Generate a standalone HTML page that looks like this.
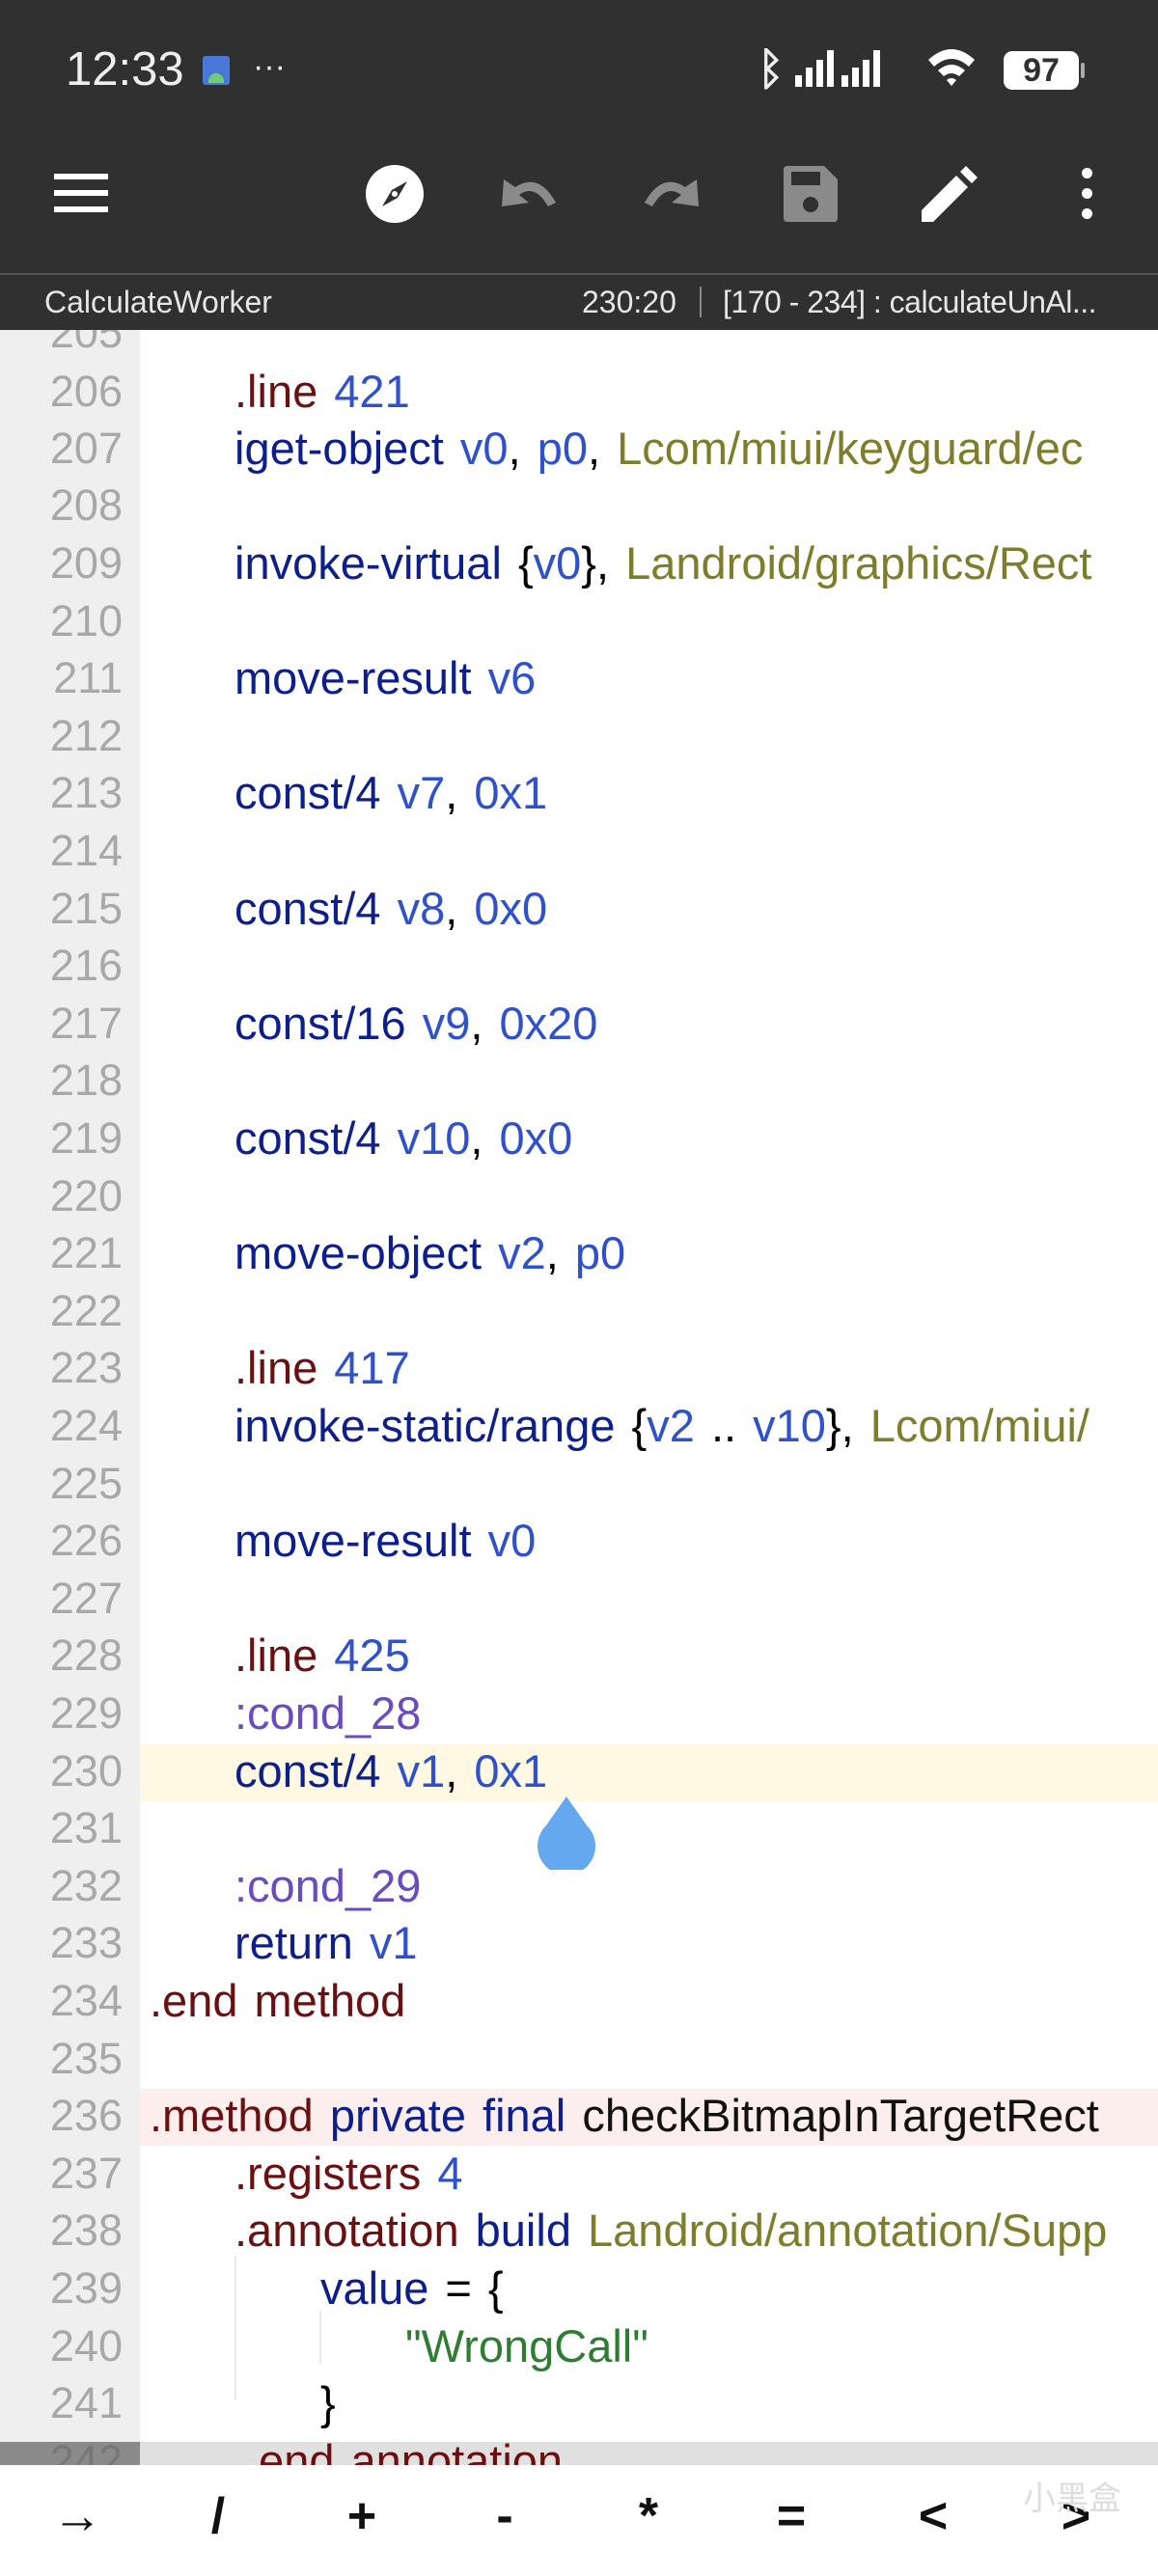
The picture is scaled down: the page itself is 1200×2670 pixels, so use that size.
<!DOCTYPE html>
<html><head><meta charset="utf-8"><style>
*{margin:0;padding:0;box-sizing:border-box}
body{width:1200px;height:2670px;overflow:hidden;background:#fff;font-family:"Liberation Sans","Noto Sans CJK SC",sans-serif;position:relative}
.top{position:absolute;left:0;top:0;width:1200px;height:342px;background:#303030}
.sep{position:absolute;left:0;top:283px;width:1200px;height:2px;background:#555}
.w{position:absolute;color:#eee}
.gut{position:absolute;left:0;top:342px;width:145px;height:2195px;background:#efefef}
.ln{position:absolute;left:0;width:145px;text-align:right;padding-right:18px;color:#a8a8a8;font-size:45px;height:60px;line-height:60px}
.c{position:absolute;font-size:47px;height:60px;line-height:60px;white-space:pre;word-spacing:4px}
.d{color:#6b1010}.n{color:#2f52cc}.k{color:#0d1f8c}.t{color:#7d7d2a}.l{color:#6a4cc0}.s{color:#2e7d32}.b{color:#111}
.key{position:absolute;top:2578px;font-size:52px;font-weight:bold;color:#111;width:60px;text-align:center;margin-left:-30px}
</style></head><body>
<div class="top"></div>
<div class="sep"></div>
<div class="w" style="left:68px;top:44px;font-size:49px">12:33</div>
<div style="position:absolute;left:210px;top:58px;width:28px;height:30px;background:#4a78d8;border-radius:3px"></div>
<div style="position:absolute;left:216px;top:76px;width:16px;height:10px;background:#6fcf6f;border-radius:8px 8px 0 0"></div>
<div class="w" style="left:262px;top:50px;font-size:34px">···</div>
<div class="w" style="left:785px;top:44px;font-size:46px;font-weight:bold">ᛒ</div>
<svg style="position:absolute;left:822px;top:50px" width="120" height="40"><g fill="#fff"><rect x="2" y="28" width="7" height="12"/><rect x="13" y="20" width="7" height="20"/><rect x="24" y="12" width="7" height="28"/><rect x="35" y="2" width="7" height="38"/><rect x="50" y="28" width="7" height="12"/><rect x="61" y="20" width="7" height="20"/><rect x="72" y="12" width="7" height="28"/><rect x="83" y="2" width="7" height="38"/></g></svg>
<svg style="position:absolute;left:958px;top:46px" width="60" height="46"><path d="M4 16 Q28 -6 52 16 L46 23 Q28 7 10 23Z M14 27 Q28 15 42 27 L36 33 Q28 27 20 33Z M23 37 L28 43 L33 37 Q28 33 23 37Z" fill="#fff"/></svg>
<div style="position:absolute;left:1040px;top:53px;width:78px;height:40px;background:#fff;border-radius:9px;color:#303030;font-size:34px;font-weight:bold;text-align:center;line-height:40px">97</div>
<div style="position:absolute;left:1120px;top:65px;width:4px;height:16px;background:#aaa;border-radius:2px"></div>
<div style="position:absolute;left:56px;top:180px;width:56px;height:6px;background:#fff;box-shadow:0 17px 0 #fff,0 34px 0 #fff"></div>
<svg style="position:absolute;left:378px;top:170px" width="62" height="62"><circle cx="31" cy="31" r="30" fill="#fff"/><path d="M44 18 L34 35 L18 44 L28 27Z" fill="#303030"/><circle cx="31" cy="31" r="3" fill="#fff"/></svg>
<svg style="position:absolute;left:518px;top:180px" width="64" height="44"><path d="M16 14 Q40 -2 58 30 L50 34 Q36 10 20 22 L30 30 L2 34 L4 6Z" fill="#8a8a8a"/></svg>
<svg style="position:absolute;left:662px;top:180px" width="64" height="44"><path d="M48 14 Q24 -2 6 30 L14 34 Q28 10 44 22 L34 30 L62 34 L60 6Z" fill="#8a8a8a"/></svg>
<svg style="position:absolute;left:812px;top:172px" width="56" height="58"><path d="M0 4 Q0 0 4 0 L42 0 L56 14 L56 54 Q56 58 52 58 L4 58 Q0 58 0 54Z" fill="#8a8a8a"/><rect x="8" y="6" width="30" height="14" fill="#303030"/><circle cx="28" cy="40" r="8" fill="#303030"/></svg>
<svg style="position:absolute;left:955px;top:172px" width="58" height="58"><path d="M0 46 L36 10 L48 22 L12 58 L0 58Z M40 6 L46 0 L58 12 L52 18Z" fill="#fff"/></svg>
<div style="position:absolute;left:1121px;top:174px;width:11px;height:11px;background:#fff;border-radius:50%;box-shadow:0 21px 0 #fff,0 42px 0 #fff"></div>
<div class="w" style="left:46px;top:295px;font-size:32px;color:#e6e6e6">CalculateWorker</div>
<div class="w" style="left:603px;top:295px;font-size:32px;color:#e6e6e6">230:20</div>
<div style="position:absolute;left:725px;top:297px;width:2px;height:32px;background:#888"></div>
<div class="w" style="left:749px;top:295px;font-size:32px;color:#e6e6e6;letter-spacing:-0.5px">[170 - 234] : calculateUnAl...</div>
<div class="gut"></div>
<div style="position:absolute;left:145px;top:1808px;width:1055px;height:59px;background:#fff8e3"></div>
<div style="position:absolute;left:145px;top:2165px;width:1055px;height:59px;background:#fdeeee"></div>
<div style="position:absolute;left:0;top:2531px;width:1200px;height:24px;background:#e0e0e0;overflow:hidden"></div>
<div style="position:absolute;left:0;top:2531px;width:145px;height:24px;background:#8a8a8a"></div>
<div style="position:absolute;left:243px;top:2338px;width:2px;height:150px;background:#e8e8e8"></div>
<div style="position:absolute;left:331px;top:2395px;width:2px;height:55px;background:#e8e8e8"></div>
<div style="position:absolute;left:0;top:342px;width:1200px;height:2213px;overflow:hidden">
<div style="position:absolute;left:0;top:-342px">
<div class="ln" style="top:315px">205</div>
<div class="ln" style="top:376px">206</div><div class="c" style="left:243px;top:376px"><span class="d">.line</span> <span class="n">421</span></div>
<div class="ln" style="top:435px">207</div><div class="c" style="left:243px;top:435px"><span class="k">iget-object</span> <span class="n">v0</span>, <span class="n">p0</span>, <span class="t">Lcom/miui/keyguard/ec</span></div>
<div class="ln" style="top:494px">208</div>
<div class="ln" style="top:554px">209</div><div class="c" style="left:243px;top:554px"><span class="k">invoke-virtual</span> {<span class="n">v0</span>}, <span class="t">Landroid/graphics/Rect</span></div>
<div class="ln" style="top:614px">210</div>
<div class="ln" style="top:673px">211</div><div class="c" style="left:243px;top:673px"><span class="k">move-result</span> <span class="n">v6</span></div>
<div class="ln" style="top:733px">212</div>
<div class="ln" style="top:792px">213</div><div class="c" style="left:243px;top:792px"><span class="k">const/4</span> <span class="n">v7</span>, <span class="n">0x1</span></div>
<div class="ln" style="top:852px">214</div>
<div class="ln" style="top:912px">215</div><div class="c" style="left:243px;top:912px"><span class="k">const/4</span> <span class="n">v8</span>, <span class="n">0x0</span></div>
<div class="ln" style="top:971px">216</div>
<div class="ln" style="top:1031px">217</div><div class="c" style="left:243px;top:1031px"><span class="k">const/16</span> <span class="n">v9</span>, <span class="n">0x20</span></div>
<div class="ln" style="top:1090px">218</div>
<div class="ln" style="top:1150px">219</div><div class="c" style="left:243px;top:1150px"><span class="k">const/4</span> <span class="n">v10</span>, <span class="n">0x0</span></div>
<div class="ln" style="top:1210px">220</div>
<div class="ln" style="top:1269px">221</div><div class="c" style="left:243px;top:1269px"><span class="k">move-object</span> <span class="n">v2</span>, <span class="n">p0</span></div>
<div class="ln" style="top:1329px">222</div>
<div class="ln" style="top:1388px">223</div><div class="c" style="left:243px;top:1388px"><span class="d">.line</span> <span class="n">417</span></div>
<div class="ln" style="top:1448px">224</div><div class="c" style="left:243px;top:1448px"><span class="k">invoke-static/range</span> {<span class="n">v2</span> .. <span class="n">v10</span>}, <span class="t">Lcom/miui/</span></div>
<div class="ln" style="top:1508px">225</div>
<div class="ln" style="top:1567px">226</div><div class="c" style="left:243px;top:1567px"><span class="k">move-result</span> <span class="n">v0</span></div>
<div class="ln" style="top:1627px">227</div>
<div class="ln" style="top:1686px">228</div><div class="c" style="left:243px;top:1686px"><span class="d">.line</span> <span class="n">425</span></div>
<div class="ln" style="top:1746px">229</div><div class="c" style="left:243px;top:1746px"><span class="l">:cond_28</span></div>
<div class="ln" style="top:1806px">230</div><div class="c" style="left:243px;top:1806px"><span class="k">const/4</span> <span class="n">v1</span>, <span class="n">0x1</span></div>
<div class="ln" style="top:1865px">231</div>
<div class="ln" style="top:1925px">232</div><div class="c" style="left:243px;top:1925px"><span class="l">:cond_29</span></div>
<div class="ln" style="top:1984px">233</div><div class="c" style="left:243px;top:1984px"><span class="k">return</span> <span class="n">v1</span></div>
<div class="ln" style="top:2044px">234</div><div class="c" style="left:155px;top:2044px"><span class="d">.end method</span></div>
<div class="ln" style="top:2104px">235</div>
<div class="ln" style="top:2163px">236</div><div class="c" style="left:155px;top:2163px"><span class="d">.method</span> <span class="k">private final</span> <span class="b">checkBitmapInTargetRect</span></div>
<div class="ln" style="top:2223px">237</div><div class="c" style="left:243px;top:2223px"><span class="d">.registers</span> <span class="n">4</span></div>
<div class="ln" style="top:2282px">238</div><div class="c" style="left:243px;top:2282px"><span class="d">.annotation</span> <span class="k">build</span> <span class="t">Landroid/annotation/Supp</span></div>
<div class="ln" style="top:2342px">239</div><div class="c" style="left:332px;top:2342px"><span class="k">value</span> = {</div>
<div class="ln" style="top:2402px">240</div><div class="c" style="left:420px;top:2402px"><span class="s">"WrongCall"</span></div>
<div class="ln" style="top:2461px">241</div><div class="c" style="left:332px;top:2461px">}</div>
<div class="ln" style="top:2521px;color:#777">242</div><div class="c" style="left:255px;top:2521px"><span class="d">.end annotation</span></div>
</div></div>
<svg style="position:absolute;left:556px;top:1862px" width="62" height="76"><path d="M31 0 L10 30 A30 30 0 1 0 52 30Z" fill="#64a8f0"/></svg>
<div class="key" style="left:80px">→</div>
<div class="key" style="left:226px">/</div>
<div class="key" style="left:375px">+</div>
<div class="key" style="left:523px">-</div>
<div class="key" style="left:672px">*</div>
<div class="key" style="left:820px">=</div>
<div class="key" style="left:967px">&lt;</div>
<div class="key" style="left:1115px">&gt;</div>
<div style="position:absolute;left:1060px;top:2562px;font-size:34px;color:#ddd;font-family:'Noto Sans CJK SC',sans-serif">小黑盒</div>
</body></html>
